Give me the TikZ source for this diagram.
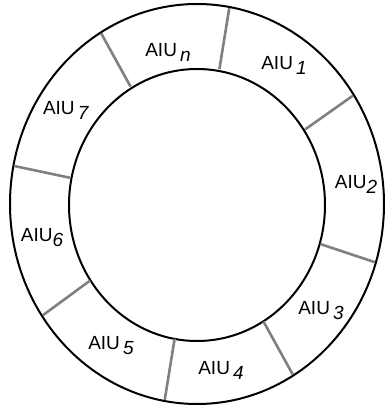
\documentclass[tikz,border=0pt]{standalone}
\usepackage{fontspec}
\newfontfamily\aiufont{Liberation Sans}
\newcommand{\aiusub}[1]{\raisebox{-5pt}{\textit{#1}}}
\tikzset{
  ring/.style={line width=2pt},
  divider/.style={line width=2.6pt, draw=black!50},
  aiu/.style={inner sep=0pt, font=\aiufont\fontsize{19}{19}\selectfont}
}

\begin{document}
\begin{tikzpicture}[x=1pt,y=1pt]
            \useasboundingbox (-197,-202) rectangle (188,204);
            \draw[ring] (0,0) ellipse (187 and 200);
            \draw[ring] (0,-1) ellipse (128 and 136);
            \foreach \a in {80,33,-17,-59,-100,-146,169,121}
                \draw[divider] (\a:129 and 137) -- (\a:186 and 199);
            \node[aiu] (aiun) at (-29,152) {AIU\,\aiusub{n}};
            \node[aiu] (aiu1) at (87,139) {AIU\,\aiusub{1}};
            \node[aiu] (aiu2) at (159,20) {AIU\aiusub{2}};
            \node[aiu] (aiu3) at (124,-107) {AIU\,\aiusub{3}};
            \node[aiu] (aiu4) at (24,-166) {AIU\,\aiusub{4}};
            \node[aiu] (aiu5) at (-86,-142) {AIU\,\aiusub{5}};
            \node[aiu] (aiu6) at (-155,-34) {AIU\aiusub{6}};
            \node[aiu] (aiu7) at (-131,94) {AIU\,\aiusub{7}};
        \end{tikzpicture}
\end{document}
